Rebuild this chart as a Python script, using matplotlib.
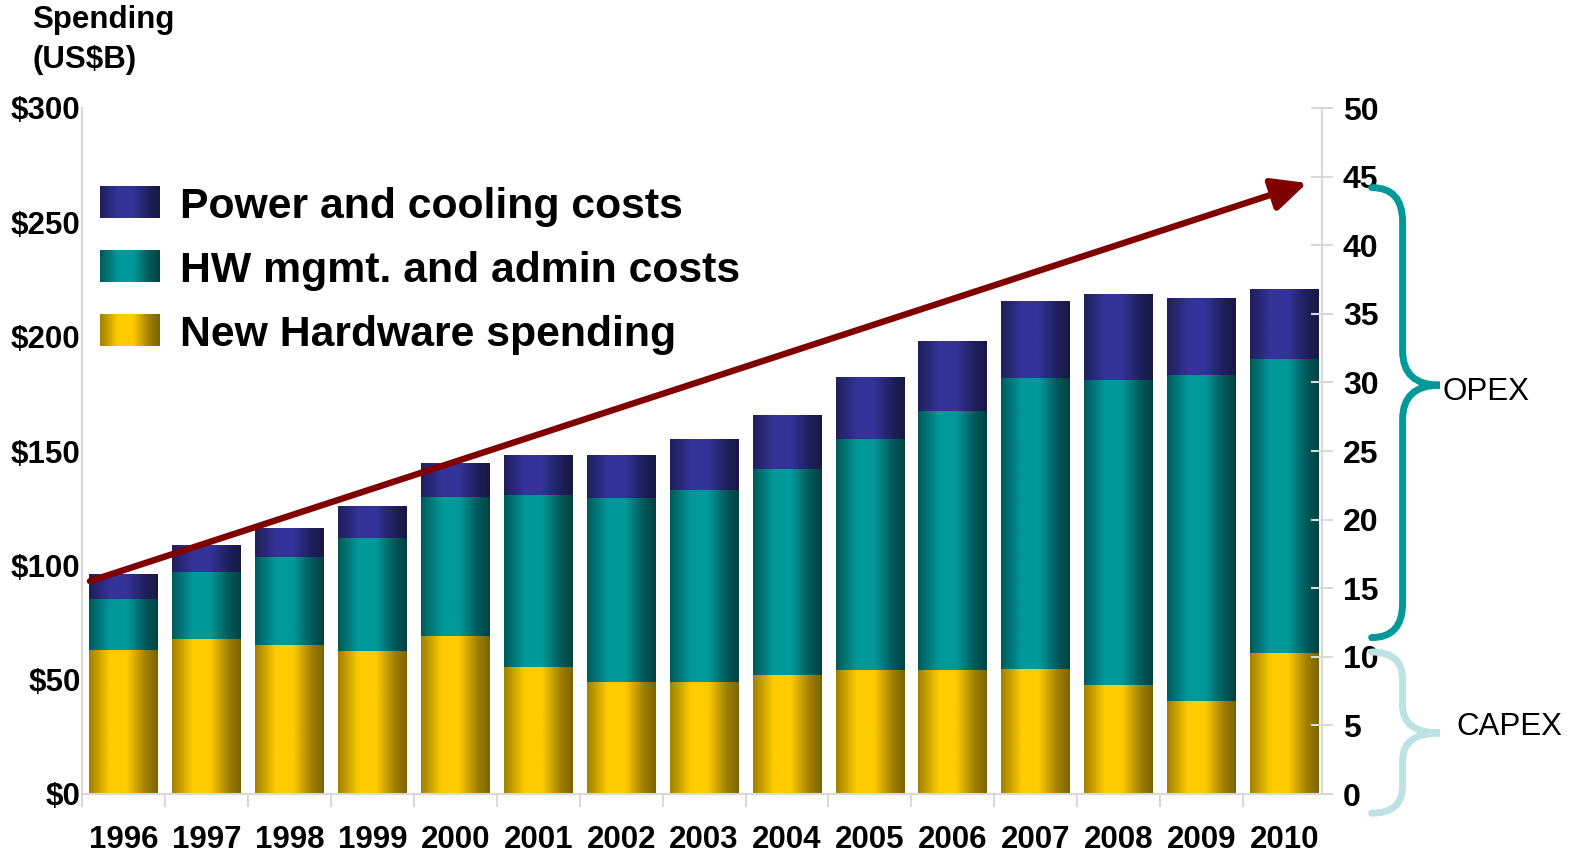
import matplotlib
matplotlib.use('Agg')
import matplotlib.pyplot as plt
import matplotlib.colors as mcolors
import matplotlib.transforms as mtransforms
from matplotlib.path import Path
from matplotlib.patches import PathPatch
import numpy as np

plt.rcParams['font.family'] = ['Liberation Sans', 'DejaVu Sans']

#==============================================================================#
# spending per layer, US$B, stacked bottom to top
years = [str(y) for y in range(1996, 2011)]
new_hw = [63.0, 67.8, 65.2, 62.5, 69.1, 55.5, 49.0, 49.0, 52.0, 54.2,
          54.4, 54.8, 47.7, 40.7, 61.7]
hw_mgmt = [22.3, 29.3, 38.4, 49.5, 60.8, 75.3, 80.4, 83.9, 90.1, 101.0,
           113.1, 127.1, 133.3, 142.5, 128.5]
power_cooling = [10.5, 11.4, 12.3, 13.9, 14.8, 17.4, 18.4, 21.9, 23.2, 26.7,
                 30.2, 33.3, 37.2, 33.3, 30.6]

left_ticks = list(range(0, 301, 50))
right_ticks = list(range(0, 51, 5))

# (label, values, bright colour, dark edge colour)
series = [
    ('New Hardware spending', new_hw, '#ffcc00', '#6e5800'),
    ('HW mgmt. and admin costs', hw_mgmt, '#009999', '#003838'),
    ('Power and cooling costs', power_cooling, '#333399', '#15153a'),
]

W, H = 1575, 857


# horizontal "cylinder" shading: dark edges, bright left of centre
def shade(bright, dark, n=96):
    t = np.linspace(0, 1, n)
    w = np.interp(t, [0, 0.12, 0.3, 0.55, 0.82, 1],
                  [0.35, 0.6, 1.0, 1.0, 0.35, 0.1])
    b = np.array(mcolors.to_rgb(bright))
    d = np.array(mcolors.to_rgb(dark))
    return (d + w[:, None] * (b - d))[None, :, :]


# curly brace in (axes x, right-axis y) coordinates
def brace(trans, y_top, y_bot, y_tip, color, r=2.3):
    x0, x1, x2 = 1.040, 1.065, 1.095
    verts = [(x0, y_top), (x1, y_top), (x1, y_top - r),
             (x1, y_tip + r), (x1, y_tip), (x2, y_tip),
             (x1, y_tip), (x1, y_tip - r),
             (x1, y_bot + r), (x1, y_bot), (x0, y_bot)]
    codes = [Path.MOVETO, Path.CURVE3, Path.CURVE3,
             Path.LINETO, Path.CURVE3, Path.CURVE3,
             Path.CURVE3, Path.CURVE3,
             Path.LINETO, Path.CURVE3, Path.CURVE3]
    p = PathPatch(Path(verts, codes), transform=trans, fill=False,
                  edgecolor=color, lw=5, capstyle='round', clip_on=False)
    return p


fig = plt.figure(figsize=(W / 100, H / 100), dpi=100)
ax = fig.add_axes([82 / W, 63 / H, 1240 / W, 686 / H])

x = np.arange(len(years))
bottom = np.zeros(len(years))
for name, vals, bright, dark in series:
    bars = ax.bar(x, vals, width=0.83, bottom=bottom, color='none',
                  linewidth=0)
    img = shade(bright, dark)
    for r in bars:
        ax.imshow(img, extent=[r.get_x(), r.get_x() + r.get_width(),
                               r.get_y(), r.get_y() + r.get_height()],
                  aspect='auto', interpolation='bilinear', zorder=2)
    bottom += np.array(vals)

ax.set_xlim(-0.5, 14.45)
ax.set_ylim(0, 300)

ax.set_yticks(left_ticks)
ax.set_yticklabels(['$%d' % v for v in left_ticks], fontsize=22.5,
                   fontweight='bold')
ax.tick_params(axis='y', length=0, pad=1)

ax.set_xticks(x)
ax.set_xticklabels(years, fontsize=22.5, fontweight='bold')
ax.set_xticks(np.arange(-0.5, 14.4, 1), minor=True)
ax.tick_params(axis='x', which='major', length=0, pad=22)
ax.tick_params(axis='x', which='minor', length=9, width=1.5,
               color='#d9d9d9')

for s in ['top', 'right']:
    ax.spines[s].set_visible(False)
for s in ['left', 'bottom']:
    ax.spines[s].set_color('#d9d9d9')
    ax.spines[s].set_linewidth(1.5)

# right hand scale
ax2 = ax.twinx()
ax2.set_ylim(0, 50)
ax2.set_yticks(right_ticks)
ax2.set_yticklabels([str(v) for v in right_ticks], fontsize=23,
                    fontweight='bold')
ax2.tick_params(axis='y', direction='inout', length=16, width=1.5,
                color='#d9d9d9', pad=7)
for s in ['top', 'left', 'bottom']:
    ax2.spines[s].set_visible(False)
ax2.spines['right'].set_color('#d9d9d9')
ax2.spines['right'].set_linewidth(1.5)

# growth arrow
ax.annotate('', xy=(14.27, 267.2), xytext=(-0.404, 93.1),
            arrowprops=dict(arrowstyle='-|>,head_length=21,head_width=10',
                            mutation_scale=1, color='#800000', lw=4.6,
                            shrinkA=0, shrinkB=0),
            annotation_clip=False, zorder=5)

# OPEX / CAPEX braces
btr = mtransforms.blended_transform_factory(ax2.transAxes, ax2.transData)
fig.add_artist(brace(btr, 44.2, 11.4, 29.8, '#009999', r=2.5))
fig.add_artist(brace(btr, 10.35, -1.4, 4.45, '#bde2e5', r=2.0))
ax2.text(1.097, 28.7, 'OPEX', transform=btr, fontsize=22.5, va='baseline',
         ha='left')
ax2.text(1.108, 4.3, 'CAPEX', transform=btr, fontsize=22.5, va='baseline',
         ha='left')

# legend drawn by hand so the swatches keep the shading
legend_rows = [(186, 218), (250, 282), (314, 346)]
for (top, base), (name, vals, bright, dark) in zip(legend_rows, series[::-1]):
    sw = fig.add_axes([100 / W, 1 - base / H, 60 / W, (base - top) / H])
    sw.imshow(shade(bright, dark), aspect='auto', interpolation='bilinear')
    sw.axis('off')
    fig.text(180 / W, 1 - base / H, name, fontsize=30.8, fontweight='bold',
             va='baseline', ha='left')

fig.text(32 / W, 1 - 28 / H, 'Spending', fontsize=22.5, fontweight='bold',
         va='baseline')
fig.text(32 / W, 1 - 68 / H, '(US$B)', fontsize=22.5, fontweight='bold',
         va='baseline')

fig.savefig('out.png', dpi=100, facecolor='white')
